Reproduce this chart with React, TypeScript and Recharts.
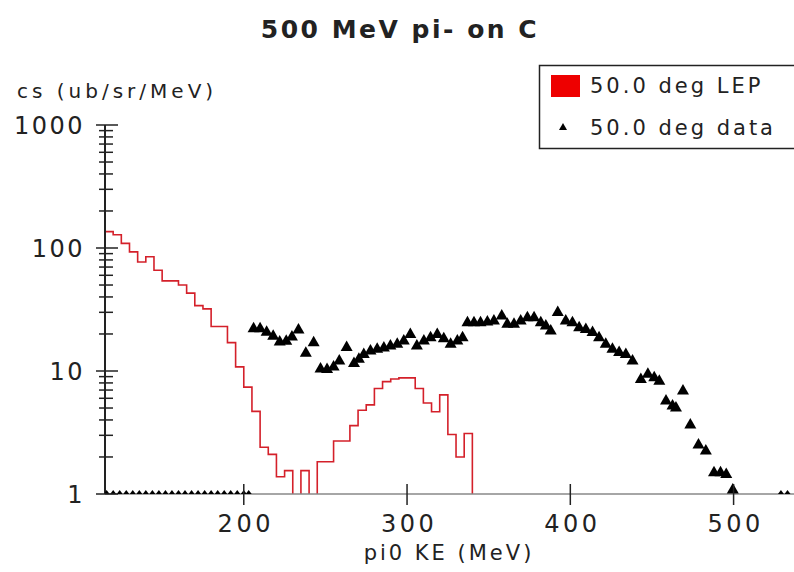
import React from 'react';
import { ComposedChart, Line, Scatter, XAxis, YAxis } from 'recharts';

// LEP histogram: 5 MeV bins (bin start, value). 0.5 = empty bin (drops below the axis)
const lepBinStart = [
  115, 120, 125, 130, 135, 140, 145, 150, 155, 160, 165, 170, 175, 180, 185,
  190, 195, 200, 205, 210, 215, 220, 225, 230, 235, 240, 245, 250, 255, 260,
  265, 270, 275, 280, 285, 290, 295, 300, 305, 310, 315, 320, 325, 330, 335,
];
const lepCs = [
  136, 128, 109, 93, 77, 85, 66, 54, 54, 50, 43, 34, 32, 23, 23,
  17, 10.8, 7.4, 4.7, 2.4, 2.1, 1.38, 1.55, 0.5, 1.55, 0.5, 1.83, 1.83, 2.7, 2.7,
  3.6, 4.8, 5.3, 7.2, 8.2, 8.6, 8.8, 8.8, 7.2, 5.5, 4.66, 6.4, 3.05, 2.0, 3.1,
];
const lepEnd = 340;

// measured points (triangles)
const dataKE = [
  206, 210, 214, 218, 222, 226, 229.5, 233.5, 238, 242.8, 247, 251, 255, 258.5, 263,
  267.5, 270.5, 273.5, 277.6, 281.7, 285.8, 289.8, 294, 298, 302, 306, 310.3, 314.4, 318.5, 322.5,
  326.7, 330.8, 334, 337, 341, 345, 349.2, 353.2, 358, 361.4, 365.5, 369.6, 373.7, 377.8, 381.9,
  385, 388, 392.3, 397.2, 401.3, 405.4, 409.5, 413.6, 417.6, 421.7, 425.8, 429.9, 434, 438.1, 443.2,
  447.5, 451.4, 454.5, 458.6, 462.6, 464.7, 469, 473.5, 478.5, 483, 488, 492, 495.5, 499.5,
];
const dataCS = [
  22.5, 22.5, 21, 19.5, 17.5, 17.8, 19.3, 22, 14.2, 17.3, 10.6, 10.5, 11, 12.3, 15.8,
  11.7, 12.7, 13.9, 14.8, 15.3, 15.7, 16.3, 16.8, 17.9, 20.2, 16.3, 17.9, 19, 20.2, 18.6,
  16.8, 17.9, 19, 25.2, 25.2, 25.1, 25.5, 26, 28.5, 24.4, 24.4, 26, 27.6, 27.6, 25.2,
  23.7, 21.5, 30.4, 26, 25.2, 22.9, 22.2, 20.9, 19, 16.8, 15.3, 14.4, 13.9, 12.3, 8.7,
  9.6, 9, 8.4, 5.8, 5.3, 5.1, 7.0, 3.7, 2.55, 2.28, 1.52, 1.52, 1.47, 1.1,
];
// points sitting on the bottom axis
const zeroKE = [
  116, 120, 124, 128, 132, 136, 140, 144, 148, 152, 156, 160, 164, 168, 172,
  176, 180, 184, 188, 192, 196, 200, 203, 529, 533,
];

const xTicks = [200, 300, 400, 500];
const decades = [1, 10, 100, 1000];
const minorSteps = [2, 3, 4, 5, 6, 7, 8, 9];

const FONT = 'DejaVu Sans, Verdana, sans-serif';
const INK = '#222';
const RED = '#d4202a';
const PLOT_BOTTOM = 494;

const lepLine = [
  { x: lepBinStart[0], y: 0.5 },
  ...lepBinStart.map((x, i) => ({ x, y: lepCs[i] })),
  { x: lepEnd, y: 0.5 },
];
const dataPoints = dataKE.map((x, i) => ({ x, y: dataCS[i] }));
const zeroPoints = zeroKE.map((x) => ({ x, y: 1 }));

const yTicks = [
  ...decades,
  ...decades.slice(0, 3).flatMap((d) => minorSteps.map((m) => d * m)),
].sort((a, b) => a - b);

const YTick = (props: any) => {
  const { y, payload } = props;
  const major = decades.includes(payload.value);
  return (
    <g>
      <line x1={major ? 96 : 99} x2={major ? 118 : 113} y1={y} y2={y} stroke={INK} strokeWidth={1.5} />
      {major && (
        <text x={85} y={y} dy={8.5} textAnchor="end" fontFamily={FONT} fontSize={24} letterSpacing={2.5} fill={INK}>
          {payload.value}
        </text>
      )}
    </g>
  );
};

const XTick = (props: any) => {
  const { x, payload } = props;
  return (
    <g>
      <line x1={x} x2={x} y1={PLOT_BOTTOM - 10} y2={PLOT_BOTTOM + 11} stroke={INK} strokeWidth={1.5} />
      <text x={x + 2} y={532} textAnchor="middle" fontFamily={FONT} fontSize={24} letterSpacing={3.5} fill={INK}>
        {payload.value}
      </text>
    </g>
  );
};

const Triangle = (props: any) => {
  const { cx, cy } = props;
  return <polygon points={`${cx},${cy - 6} ${cx - 6},${cy + 4.5} ${cx + 6},${cy + 4.5}`} fill="#000" />;
};

const SmallTriangle = (props: any) => {
  const { cx, cy } = props;
  return <polygon points={`${cx},${cy - 4} ${cx - 3},${cy} ${cx + 3},${cy}`} fill="#000" />;
};

export default function App() {
  return (
    <div style={{ position: 'absolute', left: 0, top: 0, width: 794, height: 572, background: '#fff', overflow: 'hidden' }}>
      <ComposedChart width={794} height={572} margin={{ top: 125, right: 0, bottom: 38, left: 0 }}>
        <XAxis
          type="number"
          dataKey="x"
          domain={[115, 537]}
          ticks={xTicks}
          allowDataOverflow
          height={40}
          stroke="#888"
          strokeWidth={1.5}
          tickLine={false}
          tick={<XTick />}
        />
        <YAxis
          type="number"
          dataKey="y"
          scale="log"
          domain={[1, 1000]}
          ticks={yTicks}
          allowDataOverflow
          width={105}
          stroke={INK}
          strokeWidth={2}
          tickLine={false}
          tick={<YTick />}
          interval={0}
        />
        <Line
          data={lepLine}
          dataKey="y"
          type="stepAfter"
          stroke={RED}
          strokeWidth={1.6}
          dot={false}
          isAnimationActive={false}
        />
        <Scatter data={dataPoints} dataKey="y" shape={<Triangle />} isAnimationActive={false} />
        <Scatter data={zeroPoints} dataKey="y" shape={<SmallTriangle />} isAnimationActive={false} />
      </ComposedChart>

      <svg width={794} height={572} style={{ position: 'absolute', left: 0, top: 0, pointerEvents: 'none' }}>
        <text x={400} y={38} textAnchor="middle" fontFamily={FONT} fontWeight="bold" fontSize={25} letterSpacing={2.5} fill={INK}>
          500 MeV pi- on C
        </text>
        <text x={17} y={98} fontFamily={FONT} fontSize={20} letterSpacing={4} fill={INK}>
          cs (ub/sr/MeV)
        </text>
        <text x={449} y={560} textAnchor="middle" fontFamily={FONT} fontSize={21} letterSpacing={3} fill={INK}>
          pi0 KE (MeV)
        </text>
        {/* legend */}
        <rect x={539.5} y={65.5} width={270} height={83} fill="#fff" stroke={INK} strokeWidth={1.5} />
        <rect x={551} y={75} width={29} height={22} fill="#ee0000" />
        <text x={590} y={93} fontFamily={FONT} fontSize={21} letterSpacing={3} fill={INK}>
          50.0 deg LEP
        </text>
        <polygon points="563,123 559,130 567,130" fill="#000" />
        <text x={590} y={135} fontFamily={FONT} fontSize={21} letterSpacing={3} fill={INK}>
          50.0 deg data
        </text>
      </svg>
    </div>
  );
}
